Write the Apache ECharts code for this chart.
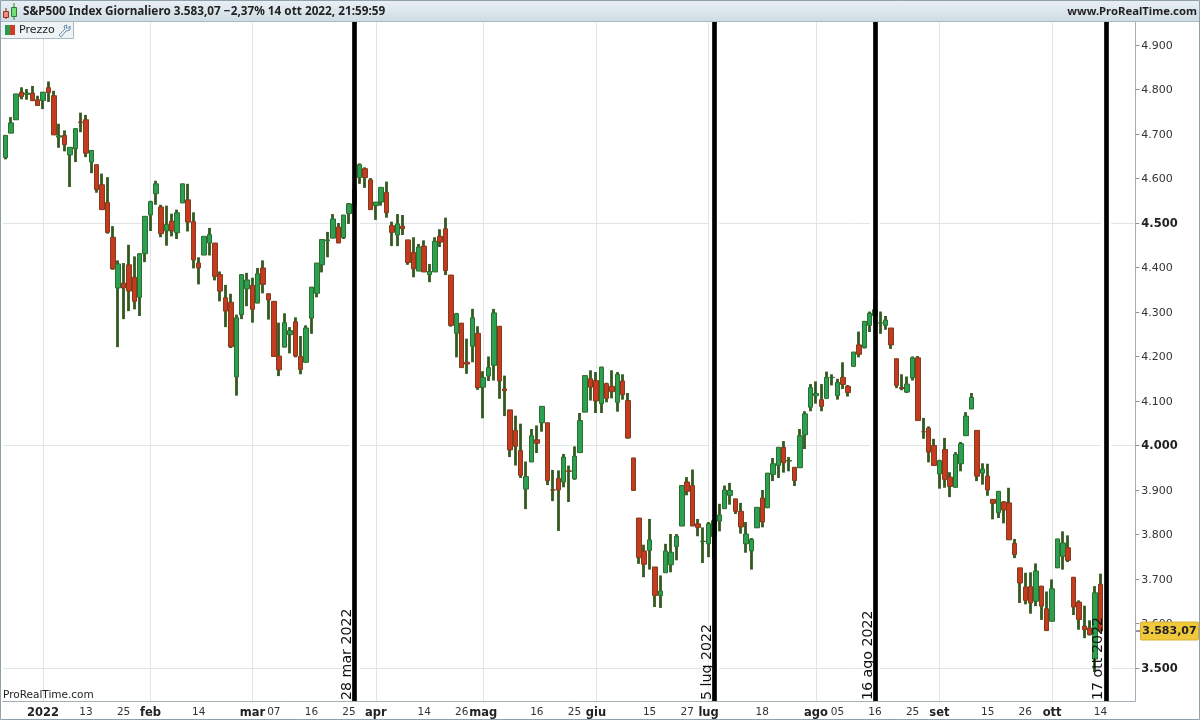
<!DOCTYPE html>
<html><head><meta charset="utf-8">
<style>html,body{margin:0;padding:0;background:#fff}#c{width:1200px;height:720px}</style>
<script src="https://cdn.jsdelivr.net/npm/echarts@6/dist/echarts.min.js"></script>
</head><body><div id="c"></div>
<script>
const FONT='"DejaVu Sans"';
const TITLEFONT='"Noto Sans"';
const dec21=[22,23,27,28,29,30,31];
const jan=[3,4,5,6,7,10,11,12,13,14,18,19,20,21,24,25,26,27,28,31];
const feb=[1,2,3,4,7,8,9,10,11,14,15,16,17,18,22,23,24,25,28];
const mar=[1,2,3,4,7,8,9,10,11,14,15,16,17,18,21,22,23,24,25,28,29,30,31];
const apr=[1,4,5,6,7,8,11,12,13,14,18,19,20,21,22,25,26,27,28,29];
const may=[2,3,4,5,6,9,10,11,12,13,16,17,18,19,20,23,24,25,26,27,31];
const jun=[1,2,3,6,7,8,9,10,13,14,15,16,17,21,22,23,24,27,28,29,30];
const jul=[1,5,6,7,8,11,12,13,14,15,18,19,20,21,22,25,26,27,28,29];
const aug=[1,2,3,4,5,8,9,10,11,12,15,16,17,18,19,22,23,24,25,26,29,30,31];
const sep=[1,2,6,7,8,9,12,13,14,15,16,19,20,21,22,23,26,27,28,29,30];
const oct=[3,4,5,6,7,10,11,12,13,14];
const futureSlots=['10-17','f1','f2','f3','f4','f5'];

const opens=[4647,4702,4732,4794,4789,4792,4777,4775,4804,4786,
4693,4697,4653,4667,4727,4732,4637,4631,4586,4546,
4468,4354,4365,4406,4378,4333,4431,4518,4566,4536,
4482,4504,4478,4545,4552,4503,4410,4428,4455,4455,
4384,4332,4322,4154,4294,4352,4360,4320,4399,4341,
4324,4201,4221,4249,4278,4200,4187,4286,4342,4406,
4460,4466,4491,4467,4521,4541,4602,4622,4597,4539,
4547,4569,4494,4473,4493,4462,4434,4392,4448,4384,
4390,4470,4487,4383,4252,4275,4187,4223,4252,4131,
4156,4180,4268,4127,4080,4034,3989,3902,3963,4013,
4051,4051,3900,3926,3918,3943,3925,3984,4075,4150,
4146,4094,4139,4133,4097,4145,4101,3972,3837,3763,
3764,3727,3663,3714,3732,3773,3819,3918,3910,3824,
3784,3779,3795,3830,3858,3888,3880,3852,3779,3763,
3815,3882,3860,3935,3955,3996,3965,3951,3950,4024,
4086,4112,4103,4106,4153,4112,4153,4133,4178,4226,
4220,4270,4292,4275,4270,4264,4195,4130,4120,4152,
4197,4031,4039,4000,3936,3991,3929,3906,3959,4022,
4082,4034,3938,3931,3879,3849,3873,3871,3780,3725,
3682,3683,3650,3684,3633,3605,3725,3751,3770,3704,
3648,3594,3590,3520,3688];
const highs=[4697,4738,4790,4805,4801,4808,4786,4794,4818,4797,
4723,4708,4670,4712,4748,4743,4663,4631,4611,4603,
4493,4416,4410,4451,4425,4431,4515,4550,4595,4541,
4539,4521,4530,4588,4588,4524,4423,4470,4489,4455,
4391,4361,4341,4294,4384,4388,4377,4399,4416,4341,
4324,4276,4297,4266,4288,4246,4270,4356,4410,4463,
4480,4520,4500,4518,4545,4576,4634,4625,4601,4547,
4580,4593,4503,4520,4518,4462,4468,4453,4461,4408,
4468,4486,4512,4383,4298,4275,4240,4307,4268,4167,
4200,4307,4268,4157,4080,4067,4049,3964,4037,4045,
4088,4051,3945,3944,3981,3955,3998,4073,4157,4169,
4165,4177,4141,4169,4165,4160,4118,3972,3837,3777,
3835,3727,3708,3779,3801,3801,3910,3929,3946,3835,
3816,3828,3834,3869,3910,3916,3880,3871,3828,3792,
3861,3900,3938,3972,3996,4010,3974,3951,4037,4077,
4138,4144,4138,4166,4160,4150,4187,4136,4210,4256,
4279,4301,4325,4301,4291,4264,4195,4160,4155,4200,
4201,4062,4043,4015,3968,4017,3940,3985,4008,4075,
4118,4034,3960,3959,3879,3897,3875,3905,3790,3725,
3714,3715,3735,3684,3672,3699,3790,3807,3798,3704,
3652,3640,3607,3684,3712];
const lows=[4643,4702,4732,4778,4777,4774,4763,4756,4772,4698,
4669,4661,4581,4637,4704,4648,4612,4568,4530,4476,
4395,4221,4284,4302,4306,4291,4412,4482,4541,4468,
4449,4470,4464,4545,4481,4398,4362,4428,4427,4371,
4324,4266,4219,4112,4284,4313,4276,4320,4342,4283,
4200,4156,4221,4207,4198,4160,4187,4251,4333,4389,
4423,4466,4455,4464,4498,4520,4588,4579,4530,4507,
4539,4512,4448,4448,4473,4406,4378,4392,4390,4367,
4390,4446,4383,4267,4198,4175,4161,4187,4125,4061,
4145,4146,4105,4066,3974,3955,3927,3857,3963,3983,
4031,3911,3875,3808,3906,3873,3923,3984,4075,4101,
4073,4073,4097,4106,4076,4103,4015,3898,3734,3704,
3721,3637,3635,3714,3715,3742,3819,3888,3819,3796,
3736,3749,3745,3807,3858,3867,3846,3802,3759,3721,
3815,3816,3860,3920,3927,3939,3942,3909,3950,3992,
4077,4094,4077,4106,4135,4103,4127,4110,4177,4198,
4218,4255,4277,4251,4260,4217,4129,4124,4118,4146,
4056,4015,3962,3955,3903,3905,3884,3906,3942,4022,
4082,3920,3912,3887,3834,3837,3825,3788,3747,3646,
3643,3622,3639,3608,3584,3605,3725,3721,3738,3619,
3586,3567,3573,3491,3583];
const closes=[4697,4725,4790,4784,4792,4775,4764,4794,4793,4698,
4696,4676,4670,4712,4726,4657,4663,4575,4530,4479,
4397,4408,4354,4347,4324,4431,4515,4548,4588,4476,
4497,4482,4523,4588,4502,4417,4399,4470,4474,4380,
4347,4302,4222,4287,4384,4372,4306,4386,4362,4327,
4200,4170,4276,4258,4201,4171,4264,4356,4410,4463,
4462,4509,4455,4518,4543,4575,4631,4602,4530,4547,
4580,4523,4479,4498,4487,4411,4397,4446,4390,4391,
4459,4457,4393,4270,4296,4175,4183,4287,4130,4153,
4175,4298,4145,4123,3990,3998,3933,3930,4022,4005,
4088,3921,3900,3900,3974,3942,3976,4056,4157,4131,
4100,4176,4106,4121,4160,4114,4017,3899,3748,3733,
3788,3663,3673,3763,3760,3796,3910,3897,3819,3816,
3785,3824,3831,3844,3900,3899,3852,3817,3801,3789,
3861,3828,3938,3959,3996,3961,3966,3921,4022,4071,
4130,4117,4088,4153,4153,4142,4137,4119,4210,4205,
4279,4297,4305,4276,4282,4226,4135,4128,4138,4197,
4056,4031,3985,3955,3966,3924,3908,3980,4004,4066,
4108,3931,3947,3900,3870,3897,3855,3788,3755,3691,
3652,3646,3718,3639,3584,3678,3790,3781,3742,3637,
3609,3586,3575,3669,3583];

const labelDates=['01-03','01-13','01-25','02-01','02-14','03-01','03-07','03-16','03-25','04-01','04-14','04-26','05-02','05-16','05-25','06-01','06-15','06-27','07-01','07-18','08-01','08-05','08-16','08-25','09-01','09-15','09-26','10-03','10-14'];
const labelTexts=['2022','13','25','feb','14','mar','07','16','25','apr','14','26','mag','16','25','giu','15','27','lug','18','ago','05','16','25','set','15','26','ott','14'];
const boldLabels=['2022','feb','mar','apr','mag','giu','lug','ago','set','ott'];
const extraTickDates=['12-23','01-04','02-03','02-24','04-05','05-04','06-03','07-06','09-06','10-05'];
const monthGridDates=['01-03','02-01','03-01','04-01','05-02','06-01','07-01','08-01','09-01','10-03'];
const priceTicks=[3500,3600,3700,3800,3900,4000,4100,4200,4300,4400,4500,4600,4700,4800,4900];
const boldPrices=[3500,4000,4500];
const eventDates=['03-28','07-05','08-16','10-17'];
const eventTexts=['28 mar 2022','5 lug 2022','16 ago 2022','17 ott 2022'];
const lastPrice=3583.07;

const pad=n=>String(n).padStart(2,'0');
const build=(m,a)=>a.map(d=>pad(m)+'-'+pad(d));
const categories=[].concat(build(12,dec21),build(1,jan),build(2,feb),build(3,mar),build(4,apr),build(5,may),build(6,jun),build(7,jul),build(8,aug),build(9,sep),build(10,oct),futureSlots);
const ohlc=opens.map((o,i)=>[o,closes[i],lows[i],highs[i]]);
const bodies=opens.map((o,i)=>[o,closes[i],Math.min(o,closes[i]),Math.max(o,closes[i])]);
const emptyData=categories.map(()=>'-');
const tickSet=new Set(labelDates.concat(extraTickDates));

function ghost(name,z,markData,style,label){
  return {type:'line',name,data:emptyData,symbol:'none',z,silent:true,
    markLine:{silent:true,symbol:'none',animation:false,z,lineStyle:style,
      label:label||{show:false},data:markData}};
}

const chart=echarts.init(document.getElementById('c'),null,{renderer:'canvas'});
const option={
  animation:false,backgroundColor:'#fff',
  textStyle:{fontFamily:FONT},
  grid:{left:2.8,right:64.7,top:22,bottom:19,containLabel:false},
  xAxis:{type:'category',data:categories,boundaryGap:true,
    axisLine:{lineStyle:{color:'#a3aeb5',width:1}},
    axisTick:{alignWithLabel:true,length:3,lineStyle:{color:'#9aa5ad'},interval:(i,v)=>tickSet.has(v)},
    splitLine:{show:false},
    axisLabel:{interval:(i,v)=>labelDates.includes(v),margin:6,fontFamily:FONT,fontSize:10.5,color:'#333',
      formatter:v=>{const t=labelTexts[labelDates.indexOf(v)]||'';return boldLabels.includes(t)?'{b|'+t+'}':t;},
      rich:{b:{fontFamily:FONT,fontWeight:'bold',fontSize:11.5,color:'#222'}}}},
  yAxis:{type:'value',position:'right',min:3425.8,max:4951.7,scale:true,
    axisLine:{show:true,lineStyle:{color:'#a3aeb5',width:1}},
    axisTick:{show:true,length:4,lineStyle:{color:'#8a959c'},customValues:priceTicks},
    splitLine:{show:false},
    axisLabel:{customValues:priceTicks,margin:6,fontFamily:FONT,fontSize:11,color:'#333',padding:[2,0,0,0],
      formatter:v=>{const s=String(v);const t=s[0]+'.'+s.slice(1);return boldPrices.includes(v)?'{b|'+t+'}':t;},
      rich:{b:{fontFamily:FONT,fontWeight:'bold',fontSize:11.5,color:'#222'}}}},
  series:[
    ghost('griglia',1,
      monthGridDates.map(d=>({xAxis:d})).concat(boldPrices.map(p=>({yAxis:p}))),
      {color:'#e2e5e8',width:1,type:'solid'}),
    ghost('alone',2,eventDates.map(d=>({xAxis:d})),{color:'#ffffff',width:10,type:'solid'}),
    {type:'candlestick',name:'ombre',data:ohlc,barWidth:1,z:3,silent:true,
      itemStyle:{color:'#33591f',color0:'#33591f',borderColor:'#33591f',borderColor0:'#33591f',borderWidth:2.8}},
    {type:'candlestick',name:'Prezzo',data:bodies,barWidth:5,z:4,silent:true,
      itemStyle:{color:'#2aa152',color0:'#c73a20',borderColor:'#2f6d2c',borderColor0:'#7e3d1c',borderWidth:1}},
    ghost('eventi',6,eventDates.map((d,i)=>({xAxis:d,label:{formatter:eventTexts[i]}})),
      {color:'#000',width:4.7,type:'solid'},
      {show:true,position:'insideStartTop',distance:[1,0],rotate:90,color:'#111',fontFamily:FONT,fontSize:14.2})
  ]
};
chart.setOption(option);

const yLast=chart.convertToPixel({yAxisIndex:0},lastPrice);
const chrome='#8fa1aa';
chart.setOption({graphic:[
  {type:'rect',z:20,shape:{x:0,y:0,width:1200,height:21},style:{fill:new echarts.graphic.LinearGradient(0,0,0,1,[{offset:0,color:'#e9f0f4'},{offset:1,color:'#cfdde5'}])}},
  {type:'line',z:21,shape:{x1:0,y1:21.5,x2:1200,y2:21.5},style:{stroke:'#a9b9c2',lineWidth:1}},
  {type:'line',z:21,shape:{x1:6,y1:8,x2:6,y2:19},style:{stroke:'#7a2a1a',lineWidth:1}},
  {type:'rect',z:22,shape:{x:3.5,y:11.5,width:5,height:6},style:{fill:'#ef8a78',stroke:'#8a3a2a',lineWidth:1}},
  {type:'line',z:21,shape:{x1:14,y1:3,x2:14,y2:20},style:{stroke:'#2c7a34',lineWidth:1}},
  {type:'rect',z:22,shape:{x:11.5,y:7.5,width:5,height:9},style:{fill:'#6fe07c',stroke:'#2c7a34',lineWidth:1}},
  {type:'text',z:22,style:{x:23,y:12,text:'S&P500 Index Giornaliero 3.583,07 −2,37% 14 ott 2022, 21:59:59',fontFamily:TITLEFONT,fontWeight:'bold',fontSize:11.75,fill:'#222',verticalAlign:'middle'}},
  {type:'text',z:22,style:{x:1197,y:12,text:'www.ProRealTime.com',fontFamily:TITLEFONT,fontWeight:'bold',fontSize:11.3,fill:'#222',align:'right',verticalAlign:'middle'}},
  {type:'rect',z:20,shape:{x:0.5,y:21.5,width:73,height:17},style:{fill:'#eef3f6',stroke:'#a9b9c2',lineWidth:1}},
  {type:'rect',z:21,shape:{x:5,y:25,width:5,height:10},style:{fill:'#2a9a50'}},
  {type:'rect',z:21,shape:{x:10,y:25,width:5,height:10},style:{fill:'#d23a22'}},
  {type:'text',z:21,style:{x:19,y:30.5,text:'Prezzo',fontFamily:FONT,fontSize:11,fill:'#222',verticalAlign:'middle'}},
  {type:'polyline',z:21,shape:{points:[[59,35],[65,29],[64,26],[67,25],[66,28],[69,28],[70,26],[70,30],[66,31],[61,37],[59,35]]},style:{fill:'none',stroke:'#6d8fb0',lineWidth:1}},
  {type:'text',z:21,style:{x:3,y:695,text:'ProRealTime.com',fontFamily:FONT,fontSize:10.5,fill:'#222',verticalAlign:'middle'}},
  {type:'line',z:21,shape:{x1:1136,y1:yLast,x2:1141,y2:yLast},style:{stroke:'#333',lineWidth:1}},
  {type:'rect',z:21,shape:{x:1140.5,y:yLast-9,width:58,height:18,r:1},style:{fill:'#f0c83c',stroke:'#d9b030',lineWidth:1}},
  {type:'text',z:22,style:{x:1169.5,y:yLast+0.5,text:'3.583,07',fontFamily:FONT,fontWeight:'bold',fontSize:11,fill:'#222',align:'center',verticalAlign:'middle'}},
  {type:'rect',z:30,shape:{x:0.5,y:0.5,width:1199,height:719},style:{fill:'none',stroke:chrome,lineWidth:1}}
]});
</script></body></html>
